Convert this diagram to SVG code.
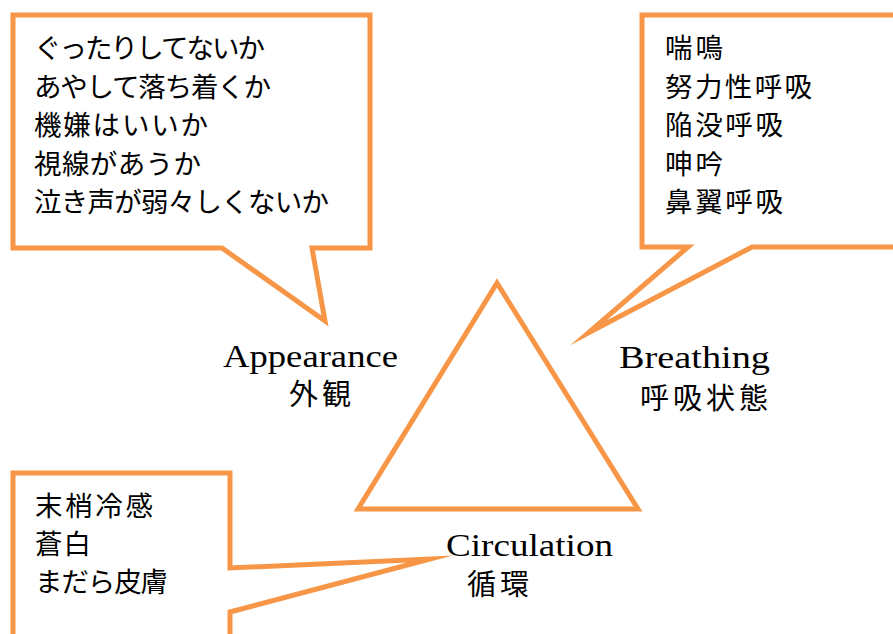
<svg xmlns="http://www.w3.org/2000/svg" width="893" height="634" viewBox="0 0 893 634">
<style>
.shape{fill:#fff;stroke:#F79646;stroke-width:5;stroke-linejoin:miter;stroke-miterlimit:12}
.jp{font-family:"Noto Sans CJK JP","Noto Sans CJK SC",sans-serif;font-size:27.5px;fill:#000}
.jpl{font-family:"Noto Sans CJK JP","Noto Sans CJK SC",sans-serif;font-size:29px;fill:#000}
.en{font-family:"Liberation Serif","Times New Roman",serif;font-size:32px;fill:#000}
</style>
<rect width="893" height="634" fill="#fff"/>
<g id="triangle">
<path class="shape" d="M497,283 L638,509 L358,509 Z"/>
</g>
<g id="callout-appearance">
<path class="shape" d="M13,15 H370 V248 H312 L325,321 L222,248 H13 Z"/>
<text class="jp" x="34" y="58" textLength="231" lengthAdjust="spacing">ぐったりしてないか</text>
<text class="jp" x="34" y="96.5" textLength="237" lengthAdjust="spacing">あやして落ち着くか</text>
<text class="jp" x="34" y="135" textLength="174" lengthAdjust="spacing">機嫌はいいか</text>
<text class="jp" x="34" y="173.5" textLength="167" lengthAdjust="spacing">視線があうか</text>
<text class="jp" x="34" y="212" textLength="295" lengthAdjust="spacing">泣き声が弱々しくないか</text>
</g>
<g id="callout-breathing">
<path class="shape" d="M642,15 H910 V247 H752 L588,333 L688,247 H642 Z"/>
<text class="jp" x="665" y="58" textLength="58" lengthAdjust="spacing">喘鳴</text>
<text class="jp" x="665" y="96.5" textLength="147" lengthAdjust="spacing">努力性呼吸</text>
<text class="jp" x="665" y="135" textLength="118" lengthAdjust="spacing">陥没呼吸</text>
<text class="jp" x="665" y="173.5" textLength="58" lengthAdjust="spacing">呻吟</text>
<text class="jp" x="665" y="212" textLength="118" lengthAdjust="spacing">鼻翼呼吸</text>
</g>
<g id="callout-circulation">
<path class="shape" d="M13,660 V473 H230 V568 L430,559 L230,612 V660 Z"/>
<text class="jp" x="35" y="515.5" textLength="118" lengthAdjust="spacing">末梢冷感</text>
<text class="jp" x="35" y="553.5" textLength="56" lengthAdjust="spacing">蒼白</text>
<text class="jp" x="35" y="591.5" textLength="133" lengthAdjust="spacing">まだら皮膚</text>
</g>
<g id="label-appearance">
<text class="en" x="223" y="366.5" textLength="175" lengthAdjust="spacingAndGlyphs">Appearance</text>
<text class="jpl" x="289" y="405" textLength="62" lengthAdjust="spacing">外観</text>
</g>
<g id="label-breathing">
<text class="en" x="619" y="368" textLength="151" lengthAdjust="spacingAndGlyphs">Breathing</text>
<text class="jpl" x="640" y="409" textLength="128" lengthAdjust="spacing">呼吸状態</text>
</g>
<g id="label-circulation">
<text class="en" x="446" y="556" textLength="167" lengthAdjust="spacingAndGlyphs">Circulation</text>
<text class="jpl" x="467" y="595" textLength="62" lengthAdjust="spacing">循環</text>
</g>
</svg>
